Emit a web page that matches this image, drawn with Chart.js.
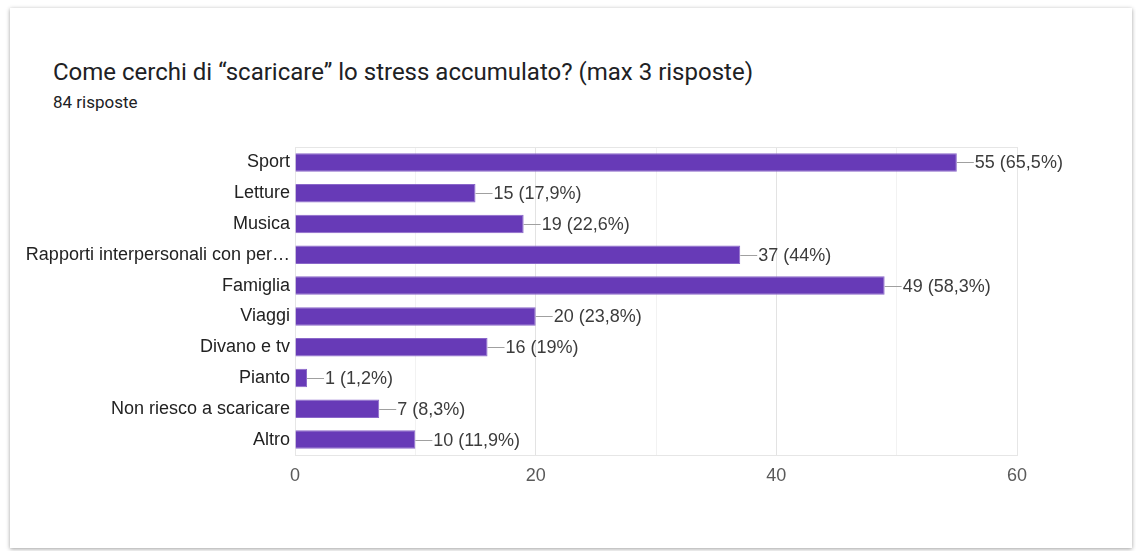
<!DOCTYPE html>
<html lang="it">
<head>
<meta charset="utf-8">
<title>Come cerchi di “scaricare” lo stress accumulato?</title>
<script src="https://cdn.jsdelivr.net/npm/chart.js@4.4.1/dist/chart.umd.min.js"></script>
<style>
  html, body { margin: 0; padding: 0; background: #fff; }
  body { width: 1136px; height: 551px; position: relative; overflow: hidden; }
  .card {
    position: absolute; left: 10px; top: 8px; width: 1122px; height: 540px;
    background: #fff; box-shadow: 0 1px 4px rgba(0,0,0,0.38);
  }
  .titolo {
    position: absolute; left: 53px; top: 57px; font: 24px/30px Roboto, sans-serif;
    color: #202124; white-space: nowrap;
  }
  .sottotitolo {
    position: absolute; left: 53px; top: 91px; font: 17px/22px Roboto, sans-serif;
    color: #202124;
  }
  #grafico { position: absolute; left: 27px; top: 0; }
</style>
</head>
<body>
<div class="card"></div>
<div class="titolo">Come cerchi di “scaricare” lo stress accumulato? (max 3 risposte)</div>
<div class="sottotitolo">84 risposte</div>
<canvas id="grafico" width="1080" height="551"></canvas>
<script>
(function(){
'use strict';

// risposte per opzione (su 84 rispondenti)
const categorie = [
  'Sport', 'Letture', 'Musica', 'Rapporti interpersonali con per…', 'Famiglia',
  'Viaggi', 'Divano e tv', 'Pianto', 'Non riesco a scaricare', 'Altro'
];
const risposte = [55, 15, 19, 37, 49, 20, 16, 1, 7, 10];
const totale = 84;
const tickAsse = [0, 20, 40, 60];

const viola = '#673ab7';
const FONT = 'Arial, "Liberation Sans", sans-serif';

// percentuale all'italiana: virgola, niente ",0"
function perc(v){
  const s = (v / totale * 100).toFixed(1).replace('.', ',');
  return s.endsWith(',0') ? s.slice(0, -2) : s;
}

// cornice grigia attorno all'area del grafico
const cornice = {
  id: 'cornice',
  beforeDatasetsDraw(chart){
    const { ctx, chartArea: a } = chart;
    ctx.save();
    ctx.strokeStyle = '#e6e6e6';
    ctx.lineWidth = 1;
    ctx.strokeRect(Math.round(a.left) + 0.5, Math.round(a.top) + 0.5,
                   Math.round(a.right - a.left), Math.round(a.bottom - a.top));
    ctx.restore();
  }
};

// etichette "n (x%)" con il trattino dopo la barra
const etichette = {
  id: 'etichette',
  afterDatasetsDraw(chart){
    const { ctx } = chart;
    const meta = chart.getDatasetMeta(0);
    ctx.save();
    ctx.font = '18px ' + FONT;
    ctx.textBaseline = 'middle';
    meta.data.forEach((bar, i) => {
      const x = bar.x, y = Math.round(bar.y) + 0.5;
      ctx.strokeStyle = '#a0a0a0';
      ctx.lineWidth = 1;
      ctx.beginPath();
      ctx.moveTo(x, y);
      ctx.lineTo(x + 17, y);
      ctx.stroke();
      ctx.fillStyle = '#3c3c3c';
      ctx.fillText(risposte[i] + ' (' + perc(risposte[i]) + '%)', x + 18, y + 1);
    });
    ctx.restore();
  }
};

const ctx = document.getElementById('grafico').getContext('2d');
new Chart(ctx, {
  type: 'bar',
  data: {
    labels: categorie,
    datasets: [{
      data: risposte,
      backgroundColor: viola,
      borderColor: '#8a67c9',
      borderWidth: 1,
      barPercentage: 0.6,
      categoryPercentage: 1
    }]
  },
  options: {
    indexAxis: 'y',
    responsive: false,
    animation: false,
    events: [],
    layout: { padding: { top: 147, right: 90, bottom: 0, left: 0 } },
    plugins: { legend: { display: false }, tooltip: { enabled: false } },
    scales: {
      x: {
        min: 0, max: 60,
        afterFit(s){ s.height = 96; },
        ticks: {
          stepSize: 10,
          padding: 10,
          color: '#5a5a5a',
          font: { family: FONT, size: 18 },
          callback: v => tickAsse.includes(v) ? String(v) : ''
        },
        grid: {
          drawTicks: false,
          color: c => (c.tick && tickAsse.includes(c.tick.value)) ? '#e3e3e3' : '#f2f2f2'
        },
        border: { display: false }
      },
      y: {
        afterFit(s){ s.width = 268; },
        ticks: {
          padding: 5,
          color: '#222',
          autoSkip: false,
          font: { family: FONT, size: 18 }
        },
        grid: { display: false, drawTicks: false },
        border: { display: true, color: '#333', width: 1 }
      }
    }
  },
  plugins: [cornice, etichette]
});

})();
</script>
</body>
</html>
